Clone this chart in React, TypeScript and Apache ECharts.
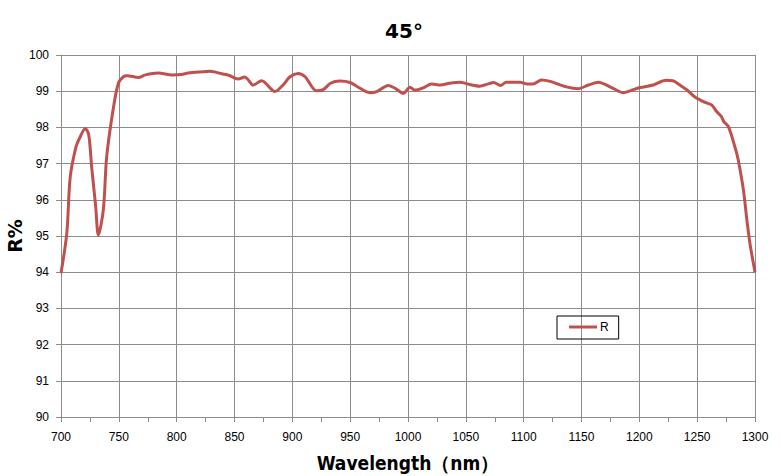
import React, { useEffect, useRef } from "react";
import * as echarts from "echarts";

const wavelengths = [
  700, 705, 708, 713, 716, 721, 724, 726.5, 730, 732.3, 736.6, 739.5, 745, 749.6, 754, 757, 767, 773, 784, 796, 804,
  810, 819, 829, 839, 845, 853, 859, 862, 866, 873.5, 885, 892, 898, 905, 911, 921, 927, 933, 941, 950, 957, 967, 973,
  983, 989, 996, 1001.7, 1006, 1013, 1020.5, 1028, 1036, 1045, 1054, 1062, 1070, 1074, 1080, 1085, 1097, 1103, 1108,
  1115.5, 1123, 1137, 1147, 1156, 1164.5, 1176, 1186, 1192, 1200.5, 1212, 1223, 1229, 1235, 1241, 1248, 1257, 1262.5,
  1267, 1271, 1273, 1277, 1283, 1285.5, 1290, 1293, 1295.6, 1300,
];
const reflectance = [
  93.97, 95.07, 96.64, 97.47, 97.7, 97.97, 97.79, 96.91, 95.81, 95.03, 95.72, 97.19, 98.48, 99.22, 99.4, 99.43, 99.38,
  99.45, 99.5, 99.45, 99.46, 99.5, 99.53, 99.55, 99.48, 99.44, 99.34, 99.39, 99.31, 99.17, 99.29, 98.99, 99.17, 99.4,
  99.49, 99.4, 99.01, 99.05, 99.22, 99.28, 99.24, 99.11, 98.96, 98.99, 99.16, 99.08, 98.94, 99.11, 99.03, 99.09, 99.2,
  99.17, 99.22, 99.25, 99.18, 99.14, 99.21, 99.24, 99.16, 99.25, 99.25, 99.2, 99.2, 99.31, 99.27, 99.12, 99.07, 99.17,
  99.25, 99.1, 98.96, 99.01, 99.1, 99.17, 99.3, 99.29, 99.17, 99.04, 98.84, 98.69, 98.62, 98.43, 98.3, 98.16, 98.02,
  97.42, 97.1, 96.27, 95.44, 94.8, 94.0,
];
const seriesName = "R";
const titleText = "45°";
const xName = "Wavelength（nm）";
const yName = "R%";

export default function App() {
  const ref = useRef<HTMLDivElement>(null);
  useEffect(() => {
    if (!ref.current) return;
    const chart = echarts.init(ref.current, undefined, { renderer: "svg" });
    const data = wavelengths.map((w, i) => [w, reflectance[i]]);
    const gridColor = "#8c8c8c";
    chart.setOption({
      animation: false,
      backgroundColor: "#fff",
      textStyle: { fontFamily: "Liberation Sans, Arial, sans-serif" },
      title: {
        text: titleText,
        left: 399,
        textAlign: "center",
        top: 16,
        textStyle: { fontSize: 20, fontWeight: "bold", color: "#000", fontFamily: "DejaVu Sans, sans-serif" },
      },
      grid: { left: 61, right: 26, top: 55, bottom: 59, containLabel: false, outerBoundsMode: "none" },
      legend: {
        left: 557,
        top: 316,
        data: [seriesName],
        icon: "rect",
        itemWidth: 28,
        itemHeight: 3,
        itemGap: 4,
        padding: [5, 10, 6, 12],
        borderColor: "#000",
        borderWidth: 1,
        textStyle: { fontSize: 12, color: "#000", padding: [0, 0, 0, -2] },
      },
      xAxis: {
        type: "value",
        min: 700,
        max: 1300,
        interval: 50,
        name: xName,
        nameLocation: "middle",
        nameGap: 36,
        nameTextStyle: { fontSize: 19, fontWeight: "bold", color: "#000", fontFamily: "DejaVu Sans Condensed, DejaVu Sans, sans-serif" },
        axisLine: { show: true, lineStyle: { color: gridColor } },
        axisTick: { show: true, length: 5, lineStyle: { color: gridColor } },
        minorTick: { show: true, splitNumber: 2, length: 5, lineStyle: { color: gridColor } },
        axisLabel: { fontSize: 12, color: "#000", margin: 14, formatter: (v: number) => String(v) },
        splitLine: { show: true, lineStyle: { color: gridColor, width: 1 } },
      },
      yAxis: {
        type: "value",
        min: 90,
        max: 100,
        interval: 1,
        name: yName,
        nameLocation: "middle",
        nameGap: 37,
        nameMoveOverlap: false,
        nameRotate: 90,
        nameTextStyle: { fontSize: 19, fontWeight: "bold", color: "#000", fontFamily: "DejaVu Sans, sans-serif" },
        axisLine: { show: true, lineStyle: { color: gridColor } },
        axisTick: { show: true, length: 5, lineStyle: { color: gridColor } },
        axisLabel: { fontSize: 12, color: "#000", margin: 12, formatter: (v: number) => String(v) },
        splitLine: { show: true, lineStyle: { color: gridColor, width: 1 } },
      },
      series: [
        {
          name: seriesName,
          type: "line",
          data,
          showSymbol: false,
          smooth: 0.3,
          lineStyle: { color: "#C0504D", width: 3 },
          itemStyle: { color: "#C0504D" },
        },
      ],
    });
    return () => chart.dispose();
  }, []);
  return (
    <div
      ref={ref}
      style={{ position: "absolute", left: 0, top: 0, width: 781, height: 476, overflow: "hidden" }}
    />
  );
}
